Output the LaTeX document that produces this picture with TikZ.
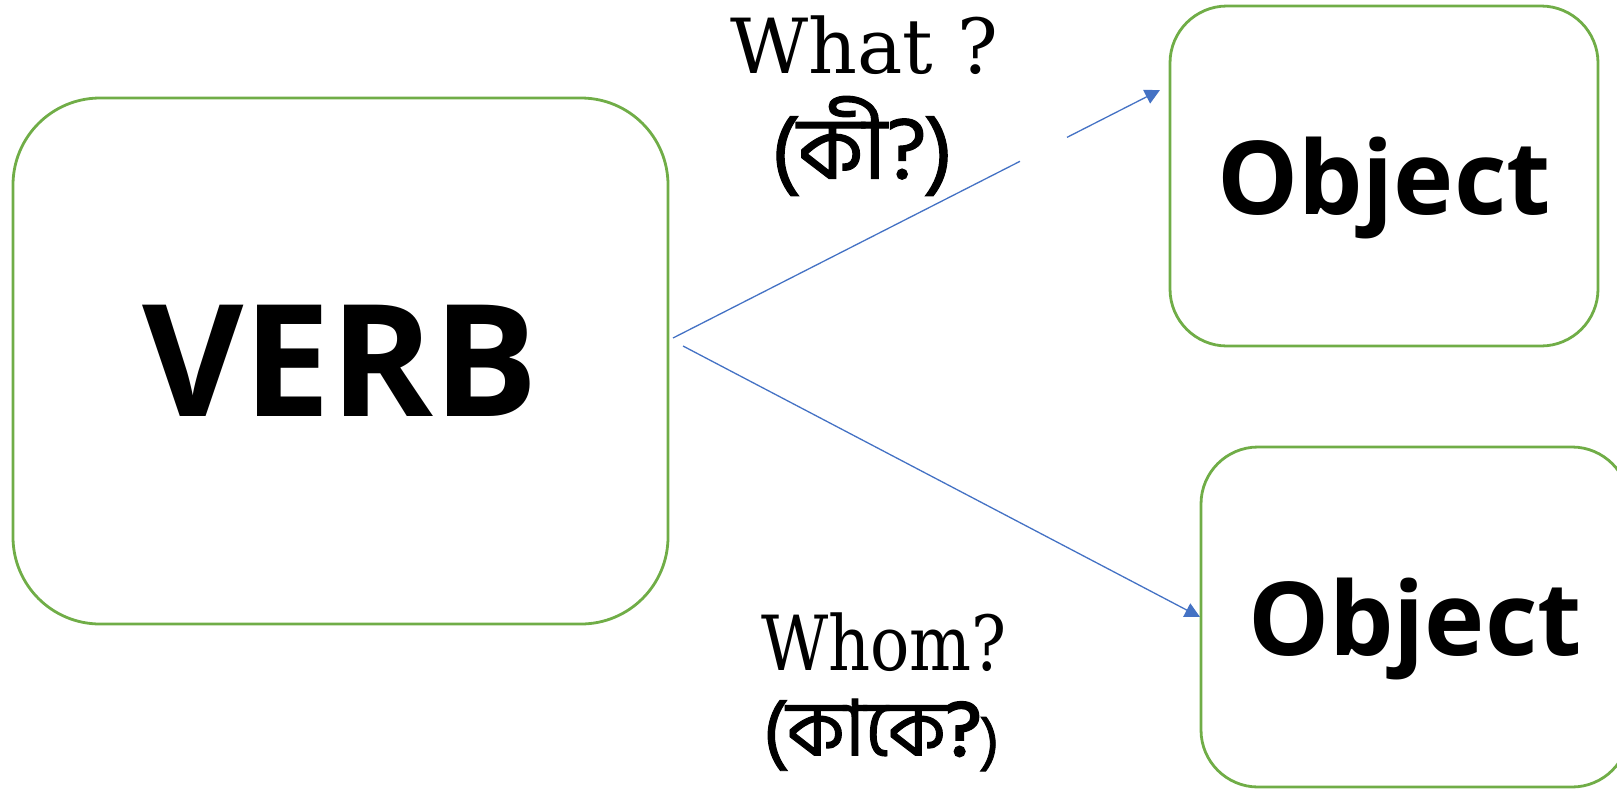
\documentclass[tikz,border=0pt]{standalone}
\usepackage{fontspec}
\usetikzlibrary{arrows.meta,calc}
\newfontfamily\boxfont{Open Sans}
\newfontfamily\serfont{DejaVu Serif}
\newfontfamily\bnfont[Script=Bengali,FakeBold=1.2]{Hind Siliguri}
\newfontfamily\bnheavy[Script=Bengali,FakeBold=3.5]{Hind Siliguri}
\definecolor{boxgreen}{HTML}{70AD47}
\definecolor{arrblue}{HTML}{4472C4}
\begin{document}
\begin{tikzpicture}[x=0.5pt,y=-0.5pt,
  box/.style={draw=boxgreen, line width=1.4pt, rectangle, outer sep=0pt, inner sep=0pt, align=center, font=\boxfont\bfseries},
  verbbox/.style={box, rounded corners=43.5pt, minimum width=327.5pt, minimum height=263pt},
  objbox/.style={box, rounded corners=28.5pt, minimum width=214pt, minimum height=170pt, text depth=0pt},
  conn/.style={draw=arrblue, line width=0.65pt},
  tipped/.style={conn, -{Triangle[length=7.5pt,width=7.5pt]}},
  entext/.style={font=\serfont\fontsize{38pt}{40pt}\selectfont, inner sep=0pt, anchor=base},
  bntext/.style={font=\bnfont\fontsize{44pt}{46pt}\selectfont, inner sep=0pt, anchor=center}]
\useasboundingbox (0,0) rectangle (1617,788);
\clip (0,0) rectangle (1617,788);
\node[verbbox] (verb) at (340.5,361) {\raisebox{-2pt}{\fontsize{78pt}{78pt}\selectfont VERB}};
\node[objbox] (obj1) at (1384,176) {\fontsize{51pt}{51pt}\selectfont Object};
\node[objbox] (obj2) at (1415,617) {\fontsize{51pt}{51pt}\selectfont Object};
\node[entext] (whatEn) at (864,73) {What ?};
\node[bntext] (whatBn) at (862,146) {(কী?)};
\node[entext] (whomEn) at (884,670) {\scalebox{0.86}[1]{Whom?}};
\node[bntext, font=\bnfont\fontsize{39pt}{41pt}\selectfont] (whomBn) at (881,735) {(কাকে{\bnheavy ?}\raisebox{-2pt}{\fontsize{30pt}{32pt}\selectfont )}};
\coordinate (s1) at ($(verb.east)+(5,-23)$);
\coordinate (t1) at ($(obj1.west)+(-10,-86)$);
\coordinate (s2) at ($(verb.east)+(15,-15)$);
\coordinate (t2) at ($(obj2.west)+(-1,0)$);
\draw[conn] (s1) -- ($(s1)!0.7125!(t1)$);
\draw[tipped] ($(s1)!0.809!(t1)$) -- (t1);
\draw[tipped] (s2) -- (t2);
\end{tikzpicture}
\end{document}
